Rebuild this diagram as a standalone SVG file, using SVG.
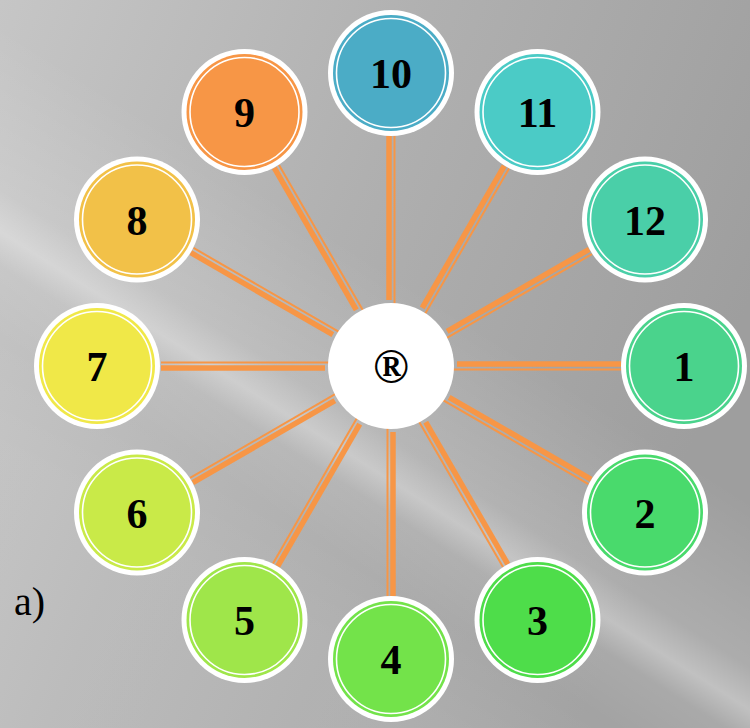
<svg xmlns="http://www.w3.org/2000/svg" xmlns:xlink="http://www.w3.org/1999/xlink" width="750" height="728" viewBox="0 0 750 728">
<style>
.disc{fill:#ffffff}
.ring{fill:none;stroke:#ffffff;stroke-width:1.6}
.num{font-family:"Liberation Serif","Times New Roman",serif;font-weight:bold;font-size:42px;fill:#000;text-anchor:middle}
.thick{stroke:#F79646;stroke-width:5.5}
.thin{stroke:#F79646;stroke-width:2}
</style>
<defs>
<linearGradient id="bg" x1="0" y1="0" x2="750" y2="300" gradientUnits="userSpaceOnUse">
<stop offset="0" stop-color="#c6c6c6"/>
<stop offset="0.5" stop-color="#b0b0b0"/>
<stop offset="1" stop-color="#9e9e9e"/>
</linearGradient>
<linearGradient id="band" x1="480" y1="328" x2="290" y2="626" gradientUnits="userSpaceOnUse">
<stop offset="0" stop-color="#ffffff" stop-opacity="0"/>
<stop offset="0.4" stop-color="#ffffff" stop-opacity="0.15"/>
<stop offset="0.5" stop-color="#ffffff" stop-opacity="0.36"/>
<stop offset="0.58" stop-color="#ffffff" stop-opacity="0.12"/>
<stop offset="0.75" stop-color="#ffffff" stop-opacity="0.05"/>
<stop offset="1" stop-color="#ffffff" stop-opacity="0.1"/>
</linearGradient>
<g id="spoke">
<line class="thick" x1="389" y1="300" x2="389" y2="136"/>
<line class="thin" x1="394.5" y1="304" x2="394.5" y2="136"/>
</g>
</defs>
<rect width="750" height="728" fill="url(#bg)"/>
<rect width="750" height="728" fill="url(#band)"/>

<g id="connectors">
<use xlink:href="#spoke" href="#spoke" transform="rotate(90 391 366)"/>
<use xlink:href="#spoke" href="#spoke" transform="rotate(120 391 366)"/>
<use xlink:href="#spoke" href="#spoke" transform="rotate(150 391 366)"/>
<use xlink:href="#spoke" href="#spoke" transform="rotate(180 391 366)"/>
<use xlink:href="#spoke" href="#spoke" transform="rotate(210 391 366)"/>
<use xlink:href="#spoke" href="#spoke" transform="rotate(240 391 366)"/>
<use xlink:href="#spoke" href="#spoke" transform="rotate(270 391 366)"/>
<use xlink:href="#spoke" href="#spoke" transform="rotate(300 391 366)"/>
<use xlink:href="#spoke" href="#spoke" transform="rotate(330 391 366)"/>
<use xlink:href="#spoke" href="#spoke"/>
<use xlink:href="#spoke" href="#spoke" transform="rotate(30 391 366)"/>
<use xlink:href="#spoke" href="#spoke" transform="rotate(60 391 366)"/>
</g>

<g id="hub">
<circle class="disc" cx="391" cy="366" r="63"/>
<text x="391" y="383" font-family="Liberation Serif, Times New Roman, serif" font-weight="bold" font-size="48" text-anchor="middle" fill="#000">®</text>
</g>

<g id="node-1"><circle class="disc" cx="684" cy="366" r="63"/><circle cx="684" cy="366" r="58" fill="#4AD38C"/><circle class="ring" cx="684" cy="366" r="54.5"/><text class="num" x="684" y="381">1</text></g>
<g id="node-2"><circle class="disc" cx="645" cy="512.5" r="63"/><circle cx="645" cy="512.5" r="58" fill="#49DA6C"/><circle class="ring" cx="645" cy="512.5" r="54.5"/><text class="num" x="645" y="527.5">2</text></g>
<g id="node-3"><circle class="disc" cx="537.5" cy="620" r="63"/><circle cx="537.5" cy="620" r="58" fill="#4EDD4A"/><circle class="ring" cx="537.5" cy="620" r="54.5"/><text class="num" x="537.5" y="635">3</text></g>
<g id="node-4"><circle class="disc" cx="391" cy="659" r="63"/><circle cx="391" cy="659" r="58" fill="#73E34A"/><circle class="ring" cx="391" cy="659" r="54.5"/><text class="num" x="391" y="674">4</text></g>
<g id="node-5"><circle class="disc" cx="244.5" cy="620" r="63"/><circle cx="244.5" cy="620" r="58" fill="#9FE64A"/><circle class="ring" cx="244.5" cy="620" r="54.5"/><text class="num" x="244.5" y="635">5</text></g>
<g id="node-6"><circle class="disc" cx="137" cy="512.5" r="63"/><circle cx="137" cy="512.5" r="58" fill="#C9EA48"/><circle class="ring" cx="137" cy="512.5" r="54.5"/><text class="num" x="137" y="527.5">6</text></g>
<g id="node-7"><circle class="disc" cx="97" cy="366" r="63"/><circle cx="97" cy="366" r="58" fill="#F0E848"/><circle class="ring" cx="97" cy="366" r="54.5"/><text class="num" x="97" y="381">7</text></g>
<g id="node-8"><circle class="disc" cx="137" cy="219.5" r="63"/><circle cx="137" cy="219.5" r="58" fill="#F2C148"/><circle class="ring" cx="137" cy="219.5" r="54.5"/><text class="num" x="137" y="234.5">8</text></g>
<g id="node-9"><circle class="disc" cx="244.5" cy="112" r="63"/><circle cx="244.5" cy="112" r="58" fill="#F79646"/><circle class="ring" cx="244.5" cy="112" r="54.5"/><text class="num" x="244.5" y="127">9</text></g>
<g id="node-10"><circle class="disc" cx="391" cy="73" r="63"/><circle cx="391" cy="73" r="58" fill="#4BACC6"/><circle class="ring" cx="391" cy="73" r="54.5"/><text class="num" x="391" y="88">10</text></g>
<g id="node-11"><circle class="disc" cx="537.5" cy="112" r="63"/><circle cx="537.5" cy="112" r="58" fill="#4BCBC6"/><circle class="ring" cx="537.5" cy="112" r="54.5"/><text class="num" x="537.5" y="127">11</text></g>
<g id="node-12"><circle class="disc" cx="645" cy="219.5" r="63"/><circle cx="645" cy="219.5" r="58" fill="#4ACFA8"/><circle class="ring" cx="645" cy="219.5" r="54.5"/><text class="num" x="645" y="234.5">12</text></g>

<text x="14" y="615" font-family="Liberation Serif, Times New Roman, serif" font-size="40" fill="#000">a)</text>
</svg>
